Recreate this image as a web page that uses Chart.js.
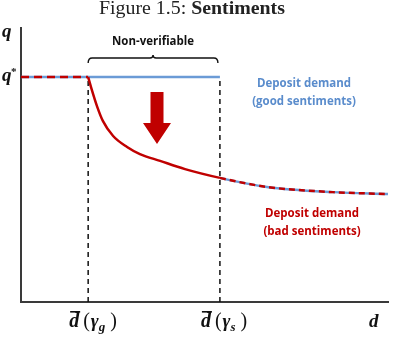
<!DOCTYPE html>
<html><head><meta charset="utf-8">
<script src="https://cdn.jsdelivr.net/npm/chart.js@4/dist/chart.umd.min.js"></script>
<style>html,body{margin:0;padding:0;background:#fff}#wrap{width:393px;height:340px;position:relative}</style>
</head><body><div id="wrap"><canvas id="c" width="393" height="340"></canvas></div>
<script>
// ---- data ----
const qStar = 82.1;           // q* level
const dGood = 18.3;           // d̄(γg)
const dSent = 54.2;           // d̄(γs)
const flatGoodX = [0, dGood, dSent];
const flatBadX = [0, dGood];
const curveX = [18.3, 19.3, 20.7, 22.3, 25.1, 28.9, 32.4, 37.9, 44.7, 54.2, 67.0, 85.0, 100];
const curveQ = [82.1, 77.4, 71.5, 66.1, 60.6, 56.6, 54.0, 51.5, 48.5, 45.3, 42.0, 40.1, 39.4];
const xMarkers = [dGood, dSent];
const xMarkerSubs = ['g', 's'];
const titleParts = ['Figure 1.5: ', 'Sentiments'];
const goodLabel = ['Deposit demand', '(good sentiments)'];
const badLabel = ['Deposit demand', '(bad sentiments)'];
const braceLabel = 'Non-verifiable';

const BLUE = '#6b9bd6', BLUE_TXT = '#5a8ccc', RED = '#c00000', AX = '#3a3a3a';

const curvePts = curveX.map((x, i) => ({x, y: curveQ[i]}));
const flatGood = flatGoodX.map(x => ({x, y: qStar}));
const flatBad = flatBadX.map(x => ({x, y: qStar}));
const vLine = d => [{x: d, y: 0}, {x: d, y: qStar}];

const SF = '"Open Sans"';
function fitLines(ctx, lines, cx, y0, lh, size, refWidth) {
  ctx.font = 'bold ' + size + 'px ' + SF;
  const k = refWidth / ctx.measureText(lines[0]).width;
  lines.forEach((t, i) => {
    ctx.save();
    ctx.translate(cx, y0 + i * lh);
    ctx.scale(k, 1);
    ctx.textAlign = 'center';
    ctx.fillText(t, 0, 0);
    ctx.restore();
  });
}

const overlay = {
  id: 'overlay',
  afterDraw(chart) {
    const {ctx, scales: {x, y}} = chart;
    ctx.save();
    ctx.textBaseline = 'alphabetic';
    // title
    const tFam = '"Liberation Serif"';
    ctx.font = '15px ' + tFam;
    const w1 = ctx.measureText(titleParts[0]).width;
    ctx.font = 'bold 15px ' + tFam;
    const w2 = ctx.measureText(titleParts[1]).width;
    const s = 186 / (w1 + w2);
    const fs = 15 * s;
    let tx = 192 - 93;
    ctx.fillStyle = '#222';
    ctx.textAlign = 'left';
    ctx.font = fs + 'px ' + tFam;
    ctx.fillText(titleParts[0], tx, 14);
    ctx.font = 'bold ' + fs + 'px ' + tFam;
    ctx.fillText(titleParts[1], tx + w1 * s, 14);

    // axis labels
    const mf = '"Liberation Serif"';
    ctx.fillStyle = '#111';
    ctx.font = 'bold italic 19px ' + mf;
    ctx.fillText('q', 2, 37);
    const qy = y.getPixelForValue(qStar);
    ctx.fillText('q', 2, qy + 4);
    ctx.font = 'bold 11px ' + mf;
    ctx.fillText('*', 11, qy - 2);
    ctx.font = 'bold italic 19px ' + mf;
    ctx.fillText('d', 369, 327);

    // x marker labels
    xMarkers.forEach((d, i) => {
      const px = x.getPixelForValue(d);
      let cx = px - 19;
      const base = 327;
      ctx.font = 'bold italic 20px ' + mf;
      const dw = ctx.measureText('d').width;
      ctx.fillText('d', cx, base);
      ctx.fillRect(cx + 1, base - 16, dw, 1.6);
      cx += dw + 4;
      ctx.font = '20px ' + mf;
      ctx.fillText('(', cx, base);
      cx += ctx.measureText('(').width + 1;
      ctx.font = 'bold italic 19px ' + mf;
      ctx.fillText('γ', cx, base);
      cx += ctx.measureText('γ').width;
      ctx.font = 'bold italic 13px ' + mf;
      ctx.fillText(xMarkerSubs[i], cx, base + 4);
      cx += ctx.measureText(xMarkerSubs[i]).width + 5;
      ctx.font = '20px ' + mf;
      ctx.fillText(')', cx, base);
    });

    // brace
    const bx0 = x.getPixelForValue(dGood), bx1 = x.getPixelForValue(dSent) - 2;
    const bm = (bx0 + bx1) / 2, by = 58;
    ctx.strokeStyle = '#111';
    ctx.lineWidth = 1.4;
    ctx.beginPath();
    ctx.moveTo(bx0, by + 5);
    ctx.quadraticCurveTo(bx0, by, bx0 + 4, by);
    ctx.lineTo(bm - 3, by);
    ctx.quadraticCurveTo(bm, by, bm, by - 3);
    ctx.quadraticCurveTo(bm, by, bm + 3, by);
    ctx.lineTo(bx1 - 4, by);
    ctx.quadraticCurveTo(bx1, by, bx1, by + 5);
    ctx.stroke();
    ctx.fillStyle = '#111';
    fitLines(ctx, [braceLabel], bm, 45, 0, 12, 82);

    // arrow
    const ax = 157, aTop = 92, aNeck = 123, aTip = 144;
    ctx.fillStyle = RED;
    ctx.beginPath();
    ctx.moveTo(ax - 6.5, aTop);
    ctx.lineTo(ax + 6.5, aTop);
    ctx.lineTo(ax + 6.5, aNeck);
    ctx.lineTo(ax + 14, aNeck);
    ctx.lineTo(ax, aTip);
    ctx.lineTo(ax - 14, aNeck);
    ctx.lineTo(ax - 6.5, aNeck);
    ctx.closePath();
    ctx.fill();

    // series labels
    ctx.fillStyle = BLUE_TXT;
    fitLines(ctx, goodLabel, 304, 87, 17.5, 12.5, 94);
    ctx.fillStyle = RED;
    fitLines(ctx, badLabel, 312, 217, 17.5, 12.5, 94);
    ctx.restore();
  }
};

new Chart(document.getElementById('c'), {
  type: 'line',
  data: {
    datasets: [
      {data: flatBad, borderColor: RED, borderWidth: 2.5, borderDash: [8, 5], tension: 0},
      {data: curvePts, borderColor: RED, borderWidth: 2.5, cubicInterpolationMode: 'monotone',
        segment: {borderDash: c => c.p0.parsed.x >= dSent - 0.01 ? [6, 4] : undefined}},
      {data: flatGood, borderColor: BLUE, borderWidth: 2.5, tension: 0},
      {data: curvePts, borderColor: BLUE, borderWidth: 2.5, cubicInterpolationMode: 'monotone',
        segment: {borderColor: c => c.p0.parsed.x >= dSent - 0.01 ? BLUE : 'rgba(0,0,0,0)'}},
      {data: vLine(xMarkers[0]), borderColor: '#111', borderWidth: 1.5, borderDash: [5, 4]},
      {data: vLine(xMarkers[1]), borderColor: '#111', borderWidth: 1.5, borderDash: [5, 4]}
    ]
  },
  options: {
    responsive: false,
    animation: false,
    elements: {point: {radius: 0}},
    layout: {padding: {left: 21, top: 28, right: 5, bottom: 38}},
    plugins: {legend: {display: false}, tooltip: {enabled: false}, title: {display: false}},
    scales: {
      x: {type: 'linear', min: 0, max: 100, ticks: {display: false},
        grid: {display: false, drawTicks: false}, border: {display: true, color: AX, width: 2}},
      y: {type: 'linear', min: 0, max: 100, ticks: {display: false},
        grid: {display: false, drawTicks: false}, border: {display: true, color: AX, width: 2}}
    }
  },
  plugins: [overlay]
});
</script></body></html>
